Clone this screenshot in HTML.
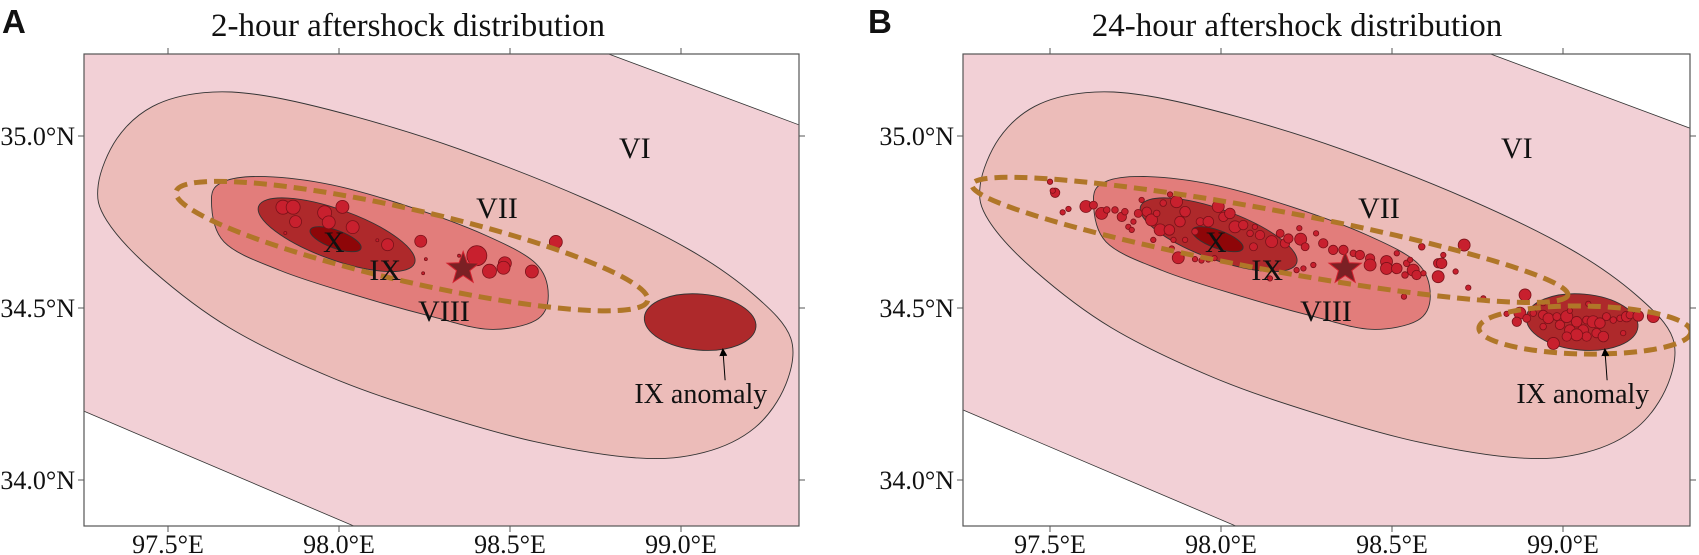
<!DOCTYPE html>
<html><head><meta charset="utf-8">
<style>
html,body{margin:0;padding:0;background:#fff;}
svg{display:block;}
text{font-family:"Liberation Serif",serif;fill:#111;}
.letter{font-family:"Liberation Sans",sans-serif;font-weight:bold;}
</style></head>
<body>
<svg id="chart" width="1699" height="555" viewBox="0 0 1699 555" xmlns="http://www.w3.org/2000/svg">
<defs>
<clipPath id="clipA"><rect x="84" y="54" width="715" height="472"/></clipPath>
<clipPath id="clipB"><rect x="963" y="54" width="727" height="472"/></clipPath>
<marker id="arrowhead" markerWidth="8" markerHeight="8" refX="4" refY="4" orient="auto"><path d="M0,0 L8,4 L0,8 z" fill="#000"/></marker>
</defs>
</svg>
<script>
// ---- data (lon/lat) ----
const lonTicks = [97.5, 98.0, 98.5, 99.0];
const latTicks = [34.0, 34.5, 35.0];
const lonTickLabels = ["97.5°E", "98.0°E", "98.5°E", "99.0°E"];
const latTickLabels = ["34.0°N", "34.5°N", "35.0°N"];
const panelTitles = ["2-hour aftershock distribution", "24-hour aftershock distribution"];
const panelLetters = ["A", "B"];

const viiLon = [97.296,97.351,97.455,97.604,97.784,98.052,98.351,98.724,99.022,99.216,99.321,99.306,99.216,99.067,98.873,98.575,98.276,97.978,97.679,97.455,97.321];
const viiLat = [34.858,34.993,35.086,35.126,35.117,35.055,34.962,34.816,34.671,34.536,34.412,34.277,34.152,34.080,34.064,34.111,34.194,34.298,34.443,34.609,34.754];
const viiiLon = [97.627,97.664,97.784,97.978,98.201,98.425,98.575,98.612,98.575,98.440,98.276,98.052,97.828,97.664];
const viiiLat = [34.816,34.868,34.882,34.858,34.796,34.713,34.630,34.536,34.464,34.438,34.474,34.536,34.609,34.692];
const cornerTRLon = [98.784, 99.40]; const cornerTRLat = [35.24, 35.012];
const cornerBLLon = [97.24, 98.058]; const cornerBLLat = [34.206, 33.86];

const epicenterLon = 98.363, epicenterLat = 34.615;

const labelText = ["VI","VII","X","IX","VIII","IX anomaly"];
const labelLon = [98.865,98.462,97.985,98.135,98.307,99.058];
const labelLat = [34.965,34.791,34.692,34.610,34.491,34.253];

const shockALon = [97.836,97.866,97.958,98.010,97.873,97.970,98.040,98.142,98.239,98.403,98.440,98.485,98.481,98.564,98.634,97.843,98.112,98.254,98.246,98.351];
const shockALat = [34.793,34.793,34.777,34.794,34.751,34.749,34.735,34.684,34.694,34.652,34.607,34.630,34.617,34.606,34.692,34.718,34.697,34.642,34.601,34.652];
const shockAMag = [7,7,7,6.5,6,6.5,6.5,6,6,10,7,6.5,6.5,6.5,6.5,1.5,1.5,1.5,1.5,1.5];

const shockBLon = [97.500,97.515,97.508,97.537,97.554,97.605,97.627,97.651,97.666,97.690,97.710,97.719,97.729,97.744,97.739,97.758,97.768,97.783,97.797,97.812,97.822,97.831,97.849,97.851,97.870,97.880,97.895,97.861,97.895,97.856,97.875,97.924,97.943,97.963,97.981,97.939,97.963,97.992,98.007,98.026,98.041,98.065,98.095,98.085,98.114,98.148,98.173,98.187,98.197,98.143,98.099,97.924,97.802,
98.229,98.233,98.278,98.246,98.299,98.328,98.358,98.387,98.406,98.436,98.436,98.484,98.484,98.514,98.543,98.562,98.572,98.592,98.538,98.514,98.553,98.270,98.221,98.241,98.535,98.587,98.635,98.645,98.635,98.650,98.686,98.711,98.723,98.767,98.889,98.835,98.874,98.865,98.894,98.913,98.942,98.957,98.982,98.991,99.011,99.020,99.040,99.059,99.069,99.088,99.108,99.098,99.118,99.069,99.040,99.011,98.972,98.942,99.147,99.167,99.186,99.196,99.220,99.264,99.176,99.074,99.020,98.942,99.127];
const shockBLat = [34.867,34.835,34.841,34.778,34.788,34.795,34.799,34.775,34.785,34.785,34.765,34.780,34.736,34.751,34.727,34.775,34.814,34.780,34.756,34.775,34.727,34.805,34.727,34.830,34.809,34.751,34.780,34.698,34.698,34.673,34.646,34.642,34.638,34.641,34.645,34.751,34.751,34.795,34.765,34.775,34.736,34.741,34.678,34.717,34.712,34.693,34.717,34.688,34.702,34.586,34.736,34.722,34.698,
34.732,34.700,34.717,34.678,34.688,34.669,34.669,34.659,34.654,34.644,34.625,34.635,34.615,34.615,34.630,34.610,34.596,34.601,34.596,34.659,34.640,34.625,34.610,34.615,34.533,34.678,34.630,34.630,34.591,34.654,34.606,34.683,34.559,34.528,34.538,34.483,34.485,34.460,34.470,34.485,34.480,34.470,34.475,34.451,34.475,34.436,34.460,34.436,34.465,34.460,34.456,34.427,34.417,34.417,34.422,34.417,34.397,34.446,34.465,34.470,34.475,34.480,34.477,34.475,34.427,34.512,34.492,34.514,34.475];
const shockBMag = [2.7,4.7,2.7,2.7,2.7,6,4,6,3.3,3.3,4.7,3.3,2.7,2.7,2.7,4,2.7,4.7,6,3.3,6,3.3,5.3,2.7,6,5.3,5.3,2.7,2.7,2.7,6,2.7,2.7,2.7,2.7,4,5.3,6,4.7,5.3,6,4.7,4,3.3,4.7,6,4,4.7,4.7,2.7,2.7,3.3,2.7,
2.7,6,2.7,4,4.7,4.7,4.7,3.3,4.7,4.7,6,6,6,5.3,3.3,6,4.7,2.7,3.3,2.7,2.7,2.7,2.7,2.7,2.7,3.3,4.7,5.3,6,2.7,2.7,6,2.7,2.7,6,2.7,6,4.7,4,3.3,4.7,5.3,4,4.7,6,5.3,5.3,5.3,4,6,5.3,4.7,5.3,4.7,6,4.7,6,3.3,3.3,3.3,5.3,4,5.3,6,2.7,2.7,2.7,2.7,4];

// ---- rendering ----
const NS = "http://www.w3.org/2000/svg";
const svgRoot = document.getElementById("chart");
const panels = [
  {x0:168, left:84, right:799, clip:"clipA", key:"a"},
  {x0:1050, left:963, right:1690, clip:"clipB", key:"b"}
];
const plotTop = 54, plotBottom = 526, pxPerDeg = 342, latPx = 344, yRef = 136;
function mk(tag, attrs, parent){ const e=document.createElementNS(NS,tag); for(const k in attrs) e.setAttribute(k,attrs[k]); (parent||svgRoot).appendChild(e); return e; }
function smoothPath(pts){
  const n=pts.length; let d=`M${pts[0][0]},${pts[0][1]}`;
  for(let i=0;i<n;i++){
    const p0=pts[(i-1+n)%n],p1=pts[i],p2=pts[(i+1)%n],p3=pts[(i+2)%n];
    const c1=[p1[0]+(p2[0]-p0[0])/6,p1[1]+(p2[1]-p0[1])/6];
    const c2=[p2[0]-(p3[0]-p1[0])/6,p2[1]-(p3[1]-p1[1])/6];
    d+=` C${c1[0]},${c1[1]} ${c2[0]},${c2[1]} ${p2[0]},${p2[1]}`;
  }
  return d+"Z";
}

panels.forEach((P,pi)=>{
  const X = lon => P.x0 + (lon-97.5)*pxPerDeg;
  const Y = lat => yRef + (35-lat)*latPx;
  const g = mk("g",{"clip-path":`url(#${P.clip})`});
  
  
  const bg = mk("rect",{x:P.left,y:plotTop,width:P.right-P.left,height:plotBottom-plotTop,fill:"#f2d0d6"},g);
  
  
  const tr = mk("path",{d:`M${X(cornerTRLon[0])},${Y(cornerTRLat[0])} L${X(cornerTRLon[1])},${Y(cornerTRLat[1])} L${P.right+5},${plotTop-5} Z`,fill:"#fff",stroke:"#333","stroke-width":0.8},g);
  
  
  const bl = mk("path",{d:`M${X(cornerBLLon[0])},${Y(cornerBLLat[0])} L${X(cornerBLLon[1])},${Y(cornerBLLat[1])} L${P.left-5},${plotBottom+5} Z`,fill:"#fff",stroke:"#333","stroke-width":0.8},g);
  
  
  const vii = mk("path",{d:smoothPath(viiLon.map((l,i)=>[X(l),Y(viiLat[i])])),fill:"#ecbcb9",stroke:"#333","stroke-width":0.9},g);
  
  
  const viii = mk("path",{d:smoothPath(viiiLon.map((l,i)=>[X(l),Y(viiiLat[i])])),fill:"#e27d7b",stroke:"#333","stroke-width":0.9},g);
  
  
  const ix = mk("ellipse",{cx:X(97.993),cy:Y(34.713),rx:83,ry:25,transform:`rotate(20 ${X(97.993)} ${Y(34.713)})`,fill:"#ae292b",stroke:"#333","stroke-width":0.9},g);
  
  
  const x10 = mk("ellipse",{cx:X(97.990),cy:Y(34.700),rx:27,ry:9,transform:`rotate(20 ${X(97.990)} ${Y(34.700)})`,fill:"#8e0608",stroke:"#333","stroke-width":0.9},g);
  
  
  const anom = mk("ellipse",{cx:X(99.056),cy:Y(34.459),rx:56,ry:28,transform:`rotate(5 ${X(99.056)} ${Y(34.459)})`,fill:"#ae292b",stroke:"#333","stroke-width":0.9},g);
  
  

  const sLon = pi===0?shockALon:shockBLon, sLat = pi===0?shockALat:shockBLat, sMag = pi===0?shockAMag:shockBMag;
  sLon.forEach((l,i)=>{
    const c = mk("circle",{cx:X(l),cy:Y(sLat[i]),r:sMag[i],fill:"#c8202e",stroke:"#7a1119","stroke-width":0.8},g);
    
    
  });

  const dash = {fill:"none",stroke:"#b07628","stroke-width":5,"stroke-dasharray":"13 7"};
  if(pi===0){
    const e=mk("ellipse",Object.assign({cx:X(98.213),cy:Y(34.680),rx:242,ry:36,transform:`rotate(13 ${X(98.213)} ${Y(34.680)})`},dash),g);
    
    
  } else {
    const e=mk("ellipse",Object.assign({cx:X(98.143),cy:Y(34.698),rx:303,ry:30,transform:`rotate(10.5 ${X(98.143)} ${Y(34.698)})`},dash),g);
    
    
    const e2=mk("ellipse",Object.assign({cx:X(99.064),cy:Y(34.436),rx:106,ry:24,transform:`rotate(1 ${X(99.064)} ${Y(34.436)})`},dash),g);
    
    
  }

  const sx=X(epicenterLon), sy=Y(epicenterLat); let sp="";
  for(let k=0;k<10;k++){ const r=k%2===0?17:7; const a=-Math.PI/2+k*Math.PI/5; sp+=`${sx+r*Math.cos(a)},${sy+r*Math.sin(a)} `; }
  const star = mk("polygon",{points:sp,fill:"#7b2024",stroke:"#d3202e","stroke-width":1},g);
  
  

  labelText.forEach((t,i)=>{
    const tx = mk("text",{x:X(labelLon[i]),y:Y(labelLat[i])+10,"text-anchor":"middle","font-size":t==="IX anomaly"?28:30},g);
    tx.textContent=t;
    
    
  });
  const arr = mk("line",{x1:X(99.129),y1:Y(34.290),x2:X(99.123),y2:Y(34.372),stroke:"#000","stroke-width":1,"marker-end":"url(#arrowhead)"},g);
  
  

  const fr = mk("rect",{x:P.left,y:plotTop,width:P.right-P.left,height:plotBottom-plotTop,fill:"none",stroke:"#555","stroke-width":1.2});
  
  
  lonTicks.forEach((l,i)=>{
    const x=X(l);
    mk("line",{x1:x,y1:plotTop,x2:x,y2:plotTop-6,stroke:"#555","stroke-width":1});
    mk("line",{x1:x,y1:plotBottom,x2:x,y2:plotBottom+6,stroke:"#555","stroke-width":1});
    const t=mk("text",{x:x,y:553,"text-anchor":"middle","font-size":26});
    t.textContent=lonTickLabels[i];
    
    
  });
  latTicks.forEach((l,i)=>{
    const y=Y(l);
    mk("line",{x1:P.left,y1:y,x2:P.left-6,y2:y,stroke:"#555","stroke-width":1});
    mk("line",{x1:P.right,y1:y,x2:P.right+6,y2:y,stroke:"#555","stroke-width":1});
    const t=mk("text",{x:P.left-9,y:y+9,"text-anchor":"end","font-size":26});
    t.textContent=latTickLabels[i];
    
    
  });
  const title = mk("text",{x:pi===0?408:1297,y:36,"text-anchor":"middle","font-size":33});
  title.textContent = panelTitles[pi];
  
  
  const letter = mk("text",{x:pi===0?2:868,y:33,"font-size":33,"class":"letter"});
  letter.textContent = panelLetters[pi];
  
  
});
</script>
</body></html>
